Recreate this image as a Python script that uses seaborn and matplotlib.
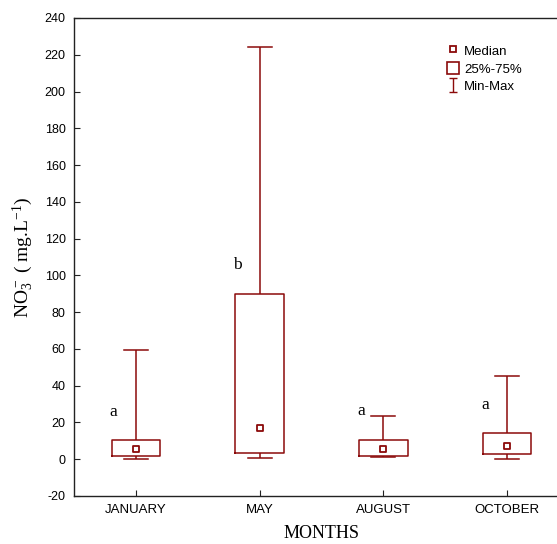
"""
Box plot of NO3- concentration by sampling month (min / quartiles / median / max).
"""

import numpy as np
import pandas as pd
import matplotlib
matplotlib.use("Agg")
import matplotlib.pyplot as plt
from matplotlib.lines import Line2D
from matplotlib.patches import Patch
from matplotlib.path import Path
import seaborn as sns

# Values (mg/L)
months = ["JANUARY", "MAY", "AUGUST", "OCTOBER"]
mins = [0.0, 0.5, 1.0, 0.2]
q1s = [1.6, 3.4, 2.0, 2.6]
medians = [5.4, 17.0, 5.3, 7.1]
q3s = [10.3, 90.0, 10.7, 14.0]
maxs = [59.3, 224.0, 23.6, 45.3]
groups = ["a", "b", "a", "a"]
yticks = list(range(-20, 241, 20))

RED = "#8b0a0a"
SERIF = "Liberation Serif"
SANS = "Liberation Sans"

plt.rcParams["mathtext.fontset"] = "custom"
plt.rcParams["mathtext.rm"] = SERIF
plt.rcParams["mathtext.it"] = SERIF + ":italic"
plt.rcParams["axes.unicode_minus"] = False

# Five-point summary per month -> long table; whis=(0, 100) gives min/max whiskers
rows = []
for m, a, b, c, d, e in zip(months, mins, q1s, medians, q3s, maxs):
    for v in (a, b, c, d, e):
        rows.append({"month": m, "no3": v})
df = pd.DataFrame(rows)
df_med = pd.DataFrame({"month": months, "no3": medians})

fig = plt.figure(figsize=(5.57, 5.44), dpi=100)
ax = fig.add_axes([74 / 557, 48 / 544, 495 / 557, 478 / 544])

sns.boxplot(data=df, x="month", y="no3", order=months, whis=(0, 100),
            width=0.39, fill=False, color=RED, linewidth=1.1,
            medianprops={"visible": False}, showfliers=False, ax=ax)
sns.stripplot(data=df_med, x="month", y="no3", order=months, jitter=False,
              marker="s", size=4.5, color="white", edgecolor=RED,
              linewidth=1.3, ax=ax, zorder=5)

# significance letters, placed above each box
for i, (g, top) in enumerate(zip(groups, q3s)):
    ax.text(i - 0.18, top + 15.5, g, ha="center", va="center",
            fontsize=12.5, family=SERIF)

ax.set_xlim(-0.5, 3.5)
ax.set_ylim(-20, 240)
ax.set_yticks(yticks)
ax.tick_params(direction="in", length=4, width=0.8, colors="#222222",
               labelsize=9, pad=6)
ax.tick_params(axis="x", labelsize=9.5)
for lab in ax.get_xticklabels() + ax.get_yticklabels():
    lab.set_family(SANS)
    lab.set_color("black")
for s in ax.spines.values():
    s.set_color("#222222")
    s.set_linewidth(1.0)

ax.set_xlabel("MONTHS", family=SERIF, fontsize=13, labelpad=6)
ax.set_ylabel("NO$\\mathregular{_3^-}$ ( mg.L$\\mathregular{^{-1}}$)",
              family=SERIF, fontsize=14, labelpad=6)

# legend: median square, quartile box, min-max whisker glyph
whisk = Path([(-0.6, 1), (0.6, 1), (0, 1), (0, -1), (-0.6, -1), (0.6, -1)],
             [Path.MOVETO, Path.LINETO, Path.MOVETO, Path.LINETO,
              Path.MOVETO, Path.LINETO])
handles = [
    Line2D([], [], ls="none", marker="s", ms=4.5, mfc="white", mec=RED, mew=1.3),
    Patch(facecolor="white", edgecolor=RED, linewidth=1.2),
    Line2D([], [], ls="none", marker=whisk, ms=10, mfc="none", mec=RED, mew=1.0),
]
fig.legend(handles, ["Median", "25%-75%", "Min-Max"], loc="upper left",
           bbox_to_anchor=(447 / 557, 1 - 44 / 544), frameon=False,
           prop={"family": SANS, "size": 9.5}, handlelength=0.9,
           handleheight=1.1, handletextpad=0.4, labelspacing=0.3,
           borderpad=0, borderaxespad=0)

plt.savefig("out.png", dpi=100)
plt.close()
